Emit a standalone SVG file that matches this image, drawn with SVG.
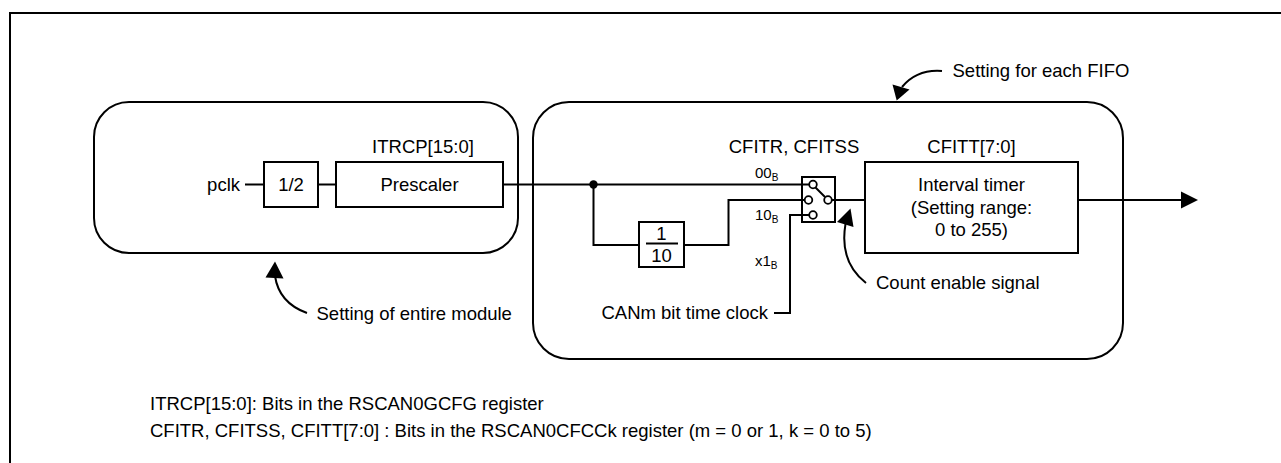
<svg xmlns="http://www.w3.org/2000/svg" width="1281" height="463" viewBox="0 0 1281 463">
<style>
text{font-family:"Liberation Sans",Arial,sans-serif;fill:#000}
.t{font-size:18.5px}
.s{font-size:15px}
.sub{font-size:10px}
.n{font-size:18.5px}
.box{fill:#fff;stroke:#000;stroke-width:2}
.ln{fill:none;stroke:#000;stroke-width:2}
.c{fill:#fff;stroke:#000;stroke-width:1.8}
</style>
<rect width="1281" height="463" fill="#fff"/>
<path class="ln" d="M10 463 V13 H1281"/>
<g id="module-area">
<rect class="box" x="94" y="102" width="424" height="151" rx="35" ry="35"/>
</g>
<g id="fifo-area">
<rect class="box" x="533" y="102" width="590" height="257" rx="36" ry="36"/>
</g>
<g id="pclk"><text class="t" x="240" y="191" text-anchor="end">pclk</text></g>
<g id="div2">
<rect class="box" x="264" y="162" width="54" height="45"/>
<text class="t" x="291" y="191" text-anchor="middle">1/2</text>
</g>
<g id="prescaler">
<text class="t" x="423" y="153" text-anchor="middle">ITRCP[15:0]</text>
<rect class="box" x="336" y="162" width="167" height="45"/>
<text class="t" x="419.5" y="191" text-anchor="middle">Prescaler</text>
</g>
<g id="div10">
<rect class="box" x="639" y="222" width="45" height="45"/>
<text class="t" x="661.5" y="240" text-anchor="middle">1</text>
<line class="ln" x1="646" y1="243.5" x2="678" y2="243.5"/>
<text class="t" x="661.5" y="262" text-anchor="middle">10</text>
</g>
<g id="switch">
<text class="t" x="794" y="153" text-anchor="middle">CFITR, CFITSS</text>
<rect class="box" x="802" y="177" width="33" height="45"/>
<line class="ln" x1="815.5" y1="187.5" x2="825" y2="197"/>
<circle class="c" cx="813" cy="184.5" r="3.8"/>
<circle class="c" cx="808.5" cy="200" r="3.8"/>
<circle class="c" cx="813" cy="215" r="3.8"/>
<circle class="c" cx="828" cy="200" r="3.8"/>
<text class="s" x="755" y="178">00<tspan class="sub" dy="3">B</tspan></text>
<text class="s" x="755" y="220">10<tspan class="sub" dy="3">B</tspan></text>
<text class="s" x="755" y="266">x1<tspan class="sub" dy="3">B</tspan></text>
</g>
<g id="interval-timer">
<text class="t" x="971.5" y="153" text-anchor="middle">CFITT[7:0]</text>
<rect class="box" x="865" y="162" width="213" height="91"/>
<text class="t" x="971.5" y="191" text-anchor="middle">Interval timer</text>
<text class="t" x="971.5" y="213.5" text-anchor="middle">(Setting range:</text>
<text class="t" x="971.5" y="236" text-anchor="middle">0 to 255)</text>
</g>
<g id="canm-clock"><text class="t" x="768" y="319" text-anchor="end">CANm bit time clock</text></g>
<g id="connectors">
<line class="ln" x1="245" y1="184.5" x2="264" y2="184.5"/>
<line class="ln" x1="318" y1="184.5" x2="336" y2="184.5"/>
<line class="ln" x1="503" y1="184.5" x2="809.2" y2="184.5"/>
<circle cx="593.5" cy="184.5" r="4.2" fill="#000"/>
<path class="ln" d="M593.5 184.5 V245 H639"/>
<path class="ln" d="M684 245 H728.5 V200 H804.7"/>
<path class="ln" d="M809.2 215 H790 V313 H774"/>
<line class="ln" x1="831.8" y1="200" x2="865" y2="200"/>
<line class="ln" x1="1078" y1="200" x2="1183" y2="200"/>
<polygon points="1181,191.5 1198,200 1181,208.5" fill="#000"/>
</g>
<g id="callout-module">
<path class="ln" d="M275 276 Q279 303 307 313"/>
<polygon points="275,261.5 265.5,277.5 283.5,278.5" fill="#000"/>
<text class="t" x="316.5" y="319.5">Setting of entire module</text>
</g>
<g id="callout-fifo">
<path class="ln" d="M902 87 Q917 69 942 71"/>
<polygon points="896.7,100.5 892.5,84.5 909.5,89.5" fill="#000"/>
<text class="t" x="952.5" y="76.5">Setting for each FIFO</text>
</g>
<g id="callout-count">
<path class="ln" d="M845.5 224 Q839 262 866 283"/>
<polygon points="850.5,208.5 837,222 853.5,227" fill="#000"/>
<text class="t" x="876" y="288.5">Count enable signal</text>
</g>
<g id="notes">
<text class="n" x="150" y="410">ITRCP[15:0]: Bits in the RSCAN0GCFG register</text>
<text class="n" x="150" y="437">CFITR, CFITSS, CFITT[7:0] : Bits in the RSCAN0CFCCk register (m = 0 or 1, k = 0 to 5)</text>
</g>
</svg>
